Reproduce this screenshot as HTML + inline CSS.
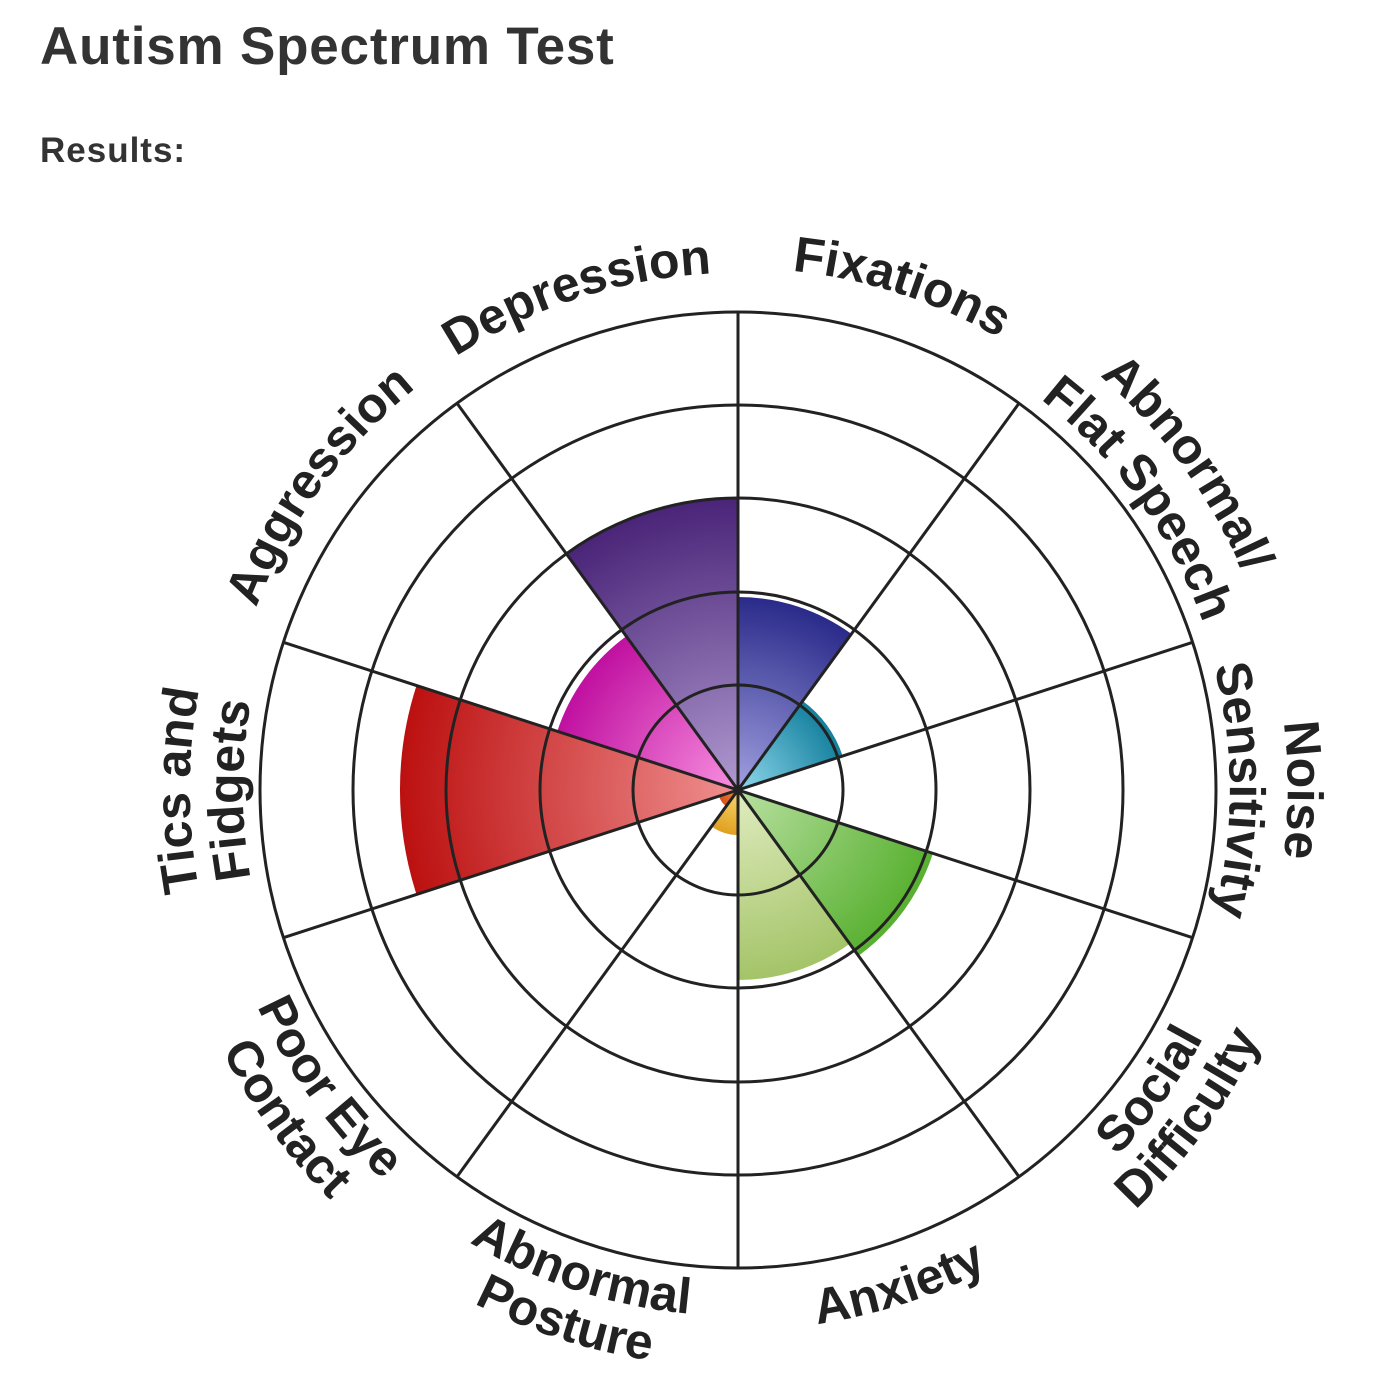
<!DOCTYPE html>
<html><head><meta charset="utf-8"><style>
html,body{margin:0;padding:0;background:#fff;width:1392px;height:1390px;overflow:hidden}
h1{position:absolute;left:40px;top:16px;margin:0;font:bold 53px "Liberation Sans",sans-serif;color:#333;letter-spacing:0.8px}
h2{position:absolute;left:40px;top:131px;margin:0;font:bold 35px "Liberation Sans",sans-serif;color:#333;letter-spacing:1px}
svg{position:absolute;left:0;top:0}
</style></head><body>
<h1>Autism Spectrum Test</h1>
<h2>Results:</h2>
<svg id="s" width="1392" height="1390" xmlns="http://www.w3.org/2000/svg"></svg>
<script>
const cx=738,cy=790;
const P=(r,a)=>{a=a*Math.PI/180;return [(cx+r*Math.sin(a)).toFixed(1),(cy-r*Math.cos(a)).toFixed(1)]};
let h='<defs>';
const wedges=[
 [324,360,292,'#b09ad0','#4a2478'],
 [0,36,193,'#a0a0e0','#2a2a8a'],
 [36,72,110,'#90d8ec','#14809e'],
 [108,144,205,'#b8e0a0','#58b030'],
 [144,180,190,'#e0ecc0','#a4c468'],
 [180,216,45,'#f8d870','#e0a020'],
 [216,252,20,'#f09050','#d85018'],
 [252,288,338,'#f09090','#bc1010'],
 [288,324,190,'#f890e0','#c010a0']
];
wedges.forEach((w,i)=>{h+=`<radialGradient id="g${i}" gradientUnits="userSpaceOnUse" cx="${cx}" cy="${cy}" r="${w[2]}"><stop offset="0" stop-color="${w[3]}"/><stop offset="1" stop-color="${w[4]}"/></radialGradient>`});
const labels=[
 [18,1,[['Fixations',522]]],
 [54,1,[['Abnormal/',550],['Flat Speech',494]]],
 [90,1,[['Noise',550],['Sensitivity',492]]],
 [126,0,[['Social',527],['Difficulty',578]]],
 [162,0,[['Anxiety',540]]],
 [198,0,[['Abnormal',526],['Posture',577]]],
 [234,0,[['Poor Eye',527],['Contact',578]]],
 [270,1,[['Tics and',548],['Fidgets',495]]],
 [306,1,[['Aggression',515]]],
 [342,1,[['Depression',517]]]
];
let k=0,txt='';
labels.forEach(l=>{l[2].forEach(t=>{const r=t[1];let d;
 if(l[1]){const a=P(r,l[0]-80),b=P(r,l[0]+80);d=`M${a} A${r},${r} 0 0 1 ${b}`;}
 else{const a=P(r,l[0]+80),b=P(r,l[0]-80);d=`M${a} A${r},${r} 0 0 0 ${b}`;}
 h+=`<path id="p${k}" d="${d}"/>`;
 txt+=`<text font-family="Liberation Sans,sans-serif" font-weight="bold" font-size="50" fill="#222" text-anchor="middle"><textPath href="#p${k}" startOffset="50%">${t[0]}</textPath></text>`;k++;})});
h+='</defs>';
wedges.forEach((w,i)=>{const a=P(w[2],w[0]),b=P(w[2],w[1]);h+=`<path d="M${cx},${cy} L${a} A${w[2]},${w[2]} 0 0 1 ${b} Z" fill="url(#g${i})"/>`});
[105,198,292,385,478].forEach(r=>{h+=`<circle cx="${cx}" cy="${cy}" r="${r}" fill="none" stroke="#222" stroke-width="3"/>`});
for(let a=0;a<360;a+=36){const p=P(478,a);h+=`<line x1="${cx}" y1="${cy}" x2="${p[0]}" y2="${p[1]}" stroke="#222" stroke-width="3"/>`}
h+=txt;
document.getElementById('s').innerHTML=h;
</script>
</body></html>
